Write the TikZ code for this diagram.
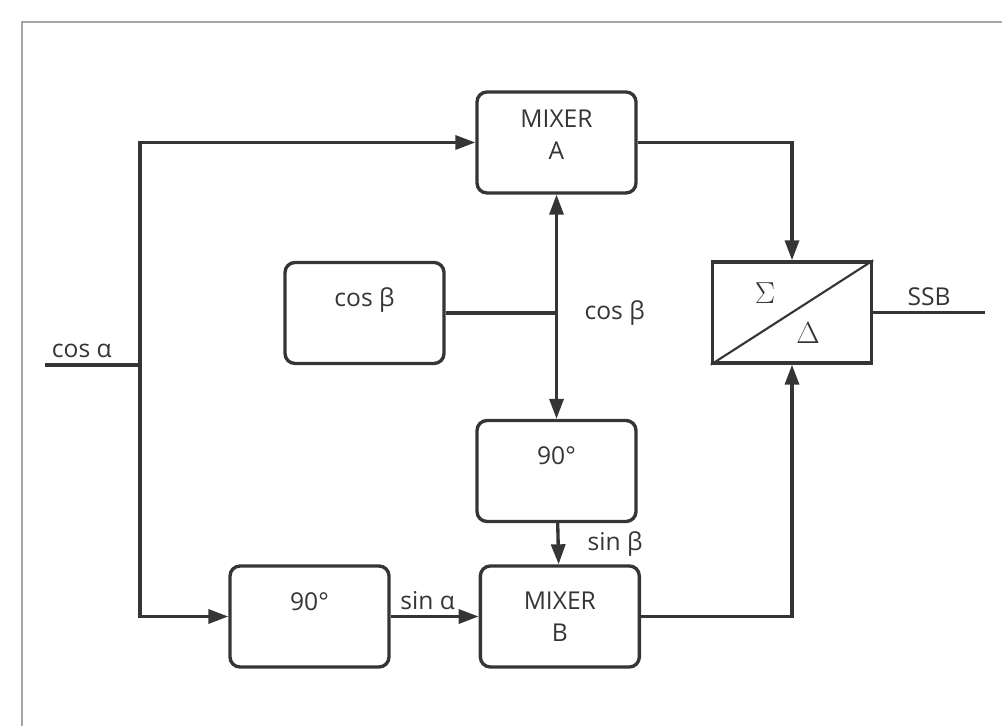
\documentclass[tikz,border=0pt]{standalone}
\usepackage{fontspec}
\setmainfont{Open Sans}
\usetikzlibrary{positioning,arrows.meta,calc}
\definecolor{inkGray}{HTML}{353535}

\begin{document}
\begin{tikzpicture}[font=\fontsize{14}{18}\selectfont, >={Triangle[length=4mm,width=2.8mm]},
          blk/.style={draw=inkGray, line width=1.9pt, rounded corners=2mm, minimum width=3.18cm, minimum height=2.02cm, align=center, text=inkGray},
          upper/.style={text height=3mm, text depth=5.6mm},
          wire/.style={draw=inkGray, line width=1.9pt},
          lbl/.style={text=inkGray, inner sep=3pt},
          sym/.style={text=inkGray, font=\fontsize{18}{20}\selectfont}]
        \useasboundingbox (0,0) rectangle (20.04,14.52);
        \draw[line width=1.2pt, draw=gray!70] (0.44,0) -- (0.44,14.08) -- (20.04,14.08);
        % boxes
        \node[blk, text depth=3.2mm] (mixA) at (11.13,11.67) {MIXER\\A};
        \node[blk, upper] (cosb) at (7.29,8.26) {cos β};
        \node[blk, upper] (phM) at (11.13,5.10) {90°};
        \node[blk, upper] (phL) at (6.19,2.19) {90°};
        \node[blk, right=1.76cm of phL] (mixB) {MIXER\\B};
        \node[blk, rounded corners=0pt] (sum) at (15.84,8.27) {};
        \draw[wire, line width=1.2pt] (sum.south west) -- (sum.north east);
        \node[sym] (sig) at ($(sum.center)+(-0.54,0.38)$) {$\Sigma$};
        \node[sym] (del) at ($(sum.center)+(0.32,-0.41)$) {$\Delta$};
        % input and split
        \coordinate (in) at (0.9,7.22);
        \coordinate (jn) at (2.8,7.22);
        \draw[wire] (in) -- (jn) node[lbl, pos=0, above right] {cos α};
        \draw[wire, ->] (jn) |- (mixA.west);
        \draw[wire, ->] (jn) |- (phL.west);
        \draw[wire, ->] (phL) -- (mixB) node[lbl, pos=0.42, above] {sin α};
        % local oscillator
        \coordinate (jb) at (mixA.south |- cosb.east);
        \draw[wire] (cosb) -- (jb);
        \draw[wire, ->] (jb) -- (mixA.south);
        \draw[wire, ->] (jb) -- (phM.north);
        \node[lbl, right=0.45cm of jb] (cbl) {cos β};
        \draw[wire, ->] (phM) -- (mixB) node[lbl, midway, right=0.45cm] {sin β};
        % sum / difference
        \draw[wire, ->] (mixA.east) -| (sum.north);
        \draw[wire, ->] (mixB.east) -| (sum.south);
        \coordinate (out) at (19.7,8.27);
        \draw[wire] (sum) -- (out) node[lbl, midway, above] {SSB};
      \end{tikzpicture}
\end{document}
